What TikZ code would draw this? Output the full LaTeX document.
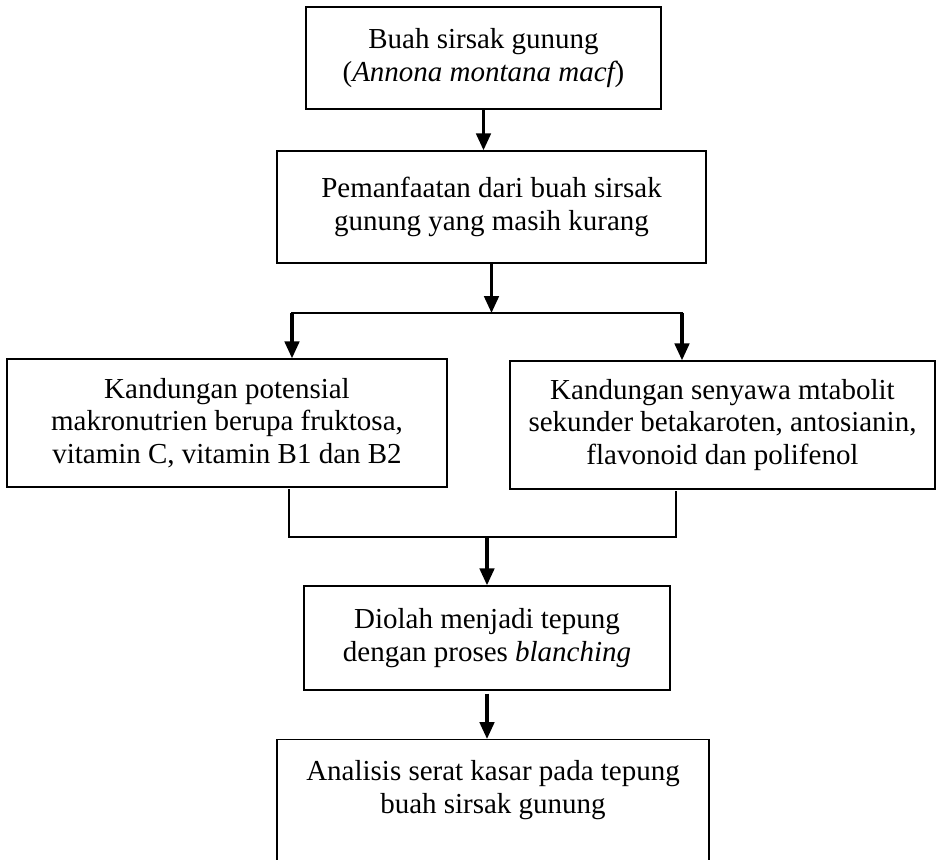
\documentclass[tikz,border=0pt]{standalone}
\usepackage{fontspec}
\setmainfont{Liberation Serif}
\usetikzlibrary{arrows.meta}

\begin{document}
\begin{tikzpicture}[x=0.414pt,y=-0.414pt]
    \tikzset{font=\fontsize{12pt}{13.5pt}\selectfont}
    \tikzset{box/.style = {shape=rectangle,draw,line width=0.55pt,align=center,inner sep=0pt}}
    \tikzset{arrow/.style = {-{Triangle[length=7pt,width=6pt]},line width=1.35pt}}
    \tikzset{joint/.style = {line width=1.15pt,line cap=rect}}
    \useasboundingbox (0,0) rectangle (936,860);
    \clip (0,0) rectangle (936,860);
    % boxes
    \node[box,minimum width=147pt,minimum height=42.2pt] (buah) at (483.5,58) {Buah sirsak gunung\\({\itshape Annona montana macf})};
    \node[box,minimum width=177.6pt,minimum height=46.4pt] (manfaat) at (491.5,207) {Pemanfaatan dari buah sirsak\\gunung yang masih kurang};
    \node[box,minimum width=182.2pt,minimum height=53pt] (nutrien) at (227,423) {Kandungan potensial\\makronutrien berupa fruktosa,\\vitamin C, vitamin B1 dan B2};
    \node[box,minimum width=176pt,minimum height=53pt] (metabolit) at (722.5,425) {Kandungan senyawa mtabolit\\sekunder betakaroten, antosianin,\\flavonoid dan polifenol};
    \node[box,minimum width=151.5pt,minimum height=43.1pt] (tepung) at (487,638) {Diolah menjadi tepung\\dengan proses \textit{blanching}};
    \node[box,minimum width=178.8pt,minimum height=66pt,anchor=north] (analisis) at (493,739) {Analisis serat kasar pada tepung\\buah sirsak gunung\\~\\~};

    % joints
    \coordinate (split) at (491.5,313);
    \coordinate (splitL) at (292,313);
    \coordinate (splitR) at (682,313);
    \coordinate (mergeL) at (289,537);
    \coordinate (mergeR) at (676,537);
    \coordinate (merge) at (487,537);

    % arrows
    \draw[arrow] (buah.south) -- (buah.south |- manfaat.north);
    \draw[arrow] (manfaat.south) -- (split);
    \draw[joint] (splitL) -- (splitR);
    \draw[arrow] (splitL) -- (splitL |- nutrien.north);
    \draw[arrow] (splitR) -- (splitR |- metabolit.north);
    \draw[joint] ([yshift=-1.2pt]mergeL |- nutrien.south) -- (mergeL) -- (mergeR) -- ([yshift=-1.2pt]mergeR |- metabolit.south);
    \draw[arrow] (merge) -- (merge |- tepung.north);
    \draw[arrow] ([yshift=-1.2pt]tepung.south) -- (tepung.south |- analisis.north);
\end{tikzpicture}
\end{document}
